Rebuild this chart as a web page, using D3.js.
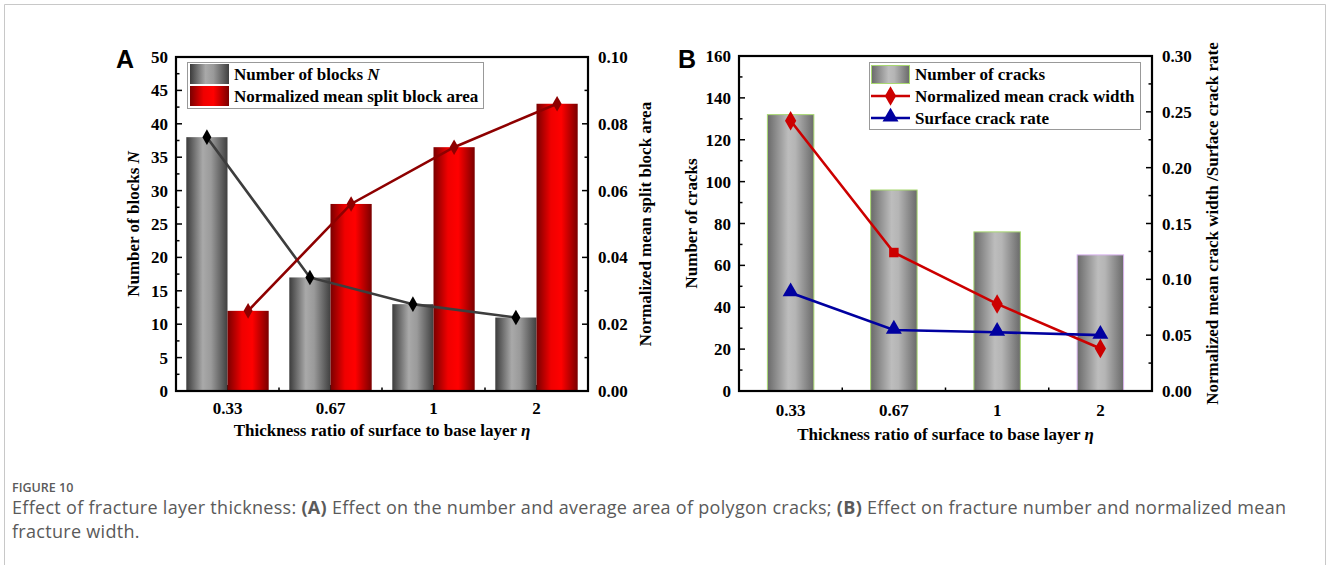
<!DOCTYPE html>
<html>
<head>
<meta charset="utf-8">
<script src="https://cdn.jsdelivr.net/npm/d3@7"></script>
<style>
  body { margin: 0; background: #fff; }
  svg text { font-family: "Liberation Serif", "Times New Roman", serif; font-weight: bold; fill: #000; }
  .cap { font-family: "Open Sans", "Noto Sans", sans-serif; font-weight: normal; fill: #5a5a5a; }
</style>
</head>
<body>
<svg id="fig" width="1328" height="565"></svg>
<script>
// categories (thickness ratio eta)
var categories = ["0.33", "0.67", "1", "2"];

// panel A
var blocksN = [38, 17, 13, 11];
var splitArea = [0.024, 0.056, 0.073, 0.086];
var ticksA_left = [0, 5, 10, 15, 20, 25, 30, 35, 40, 45, 50];
var ticksA_right = [0, 0.02, 0.04, 0.06, 0.08, 0.10];

// panel B
var crackCount = [132, 96, 76, 65];
var crackWidth = [0.242, 0.124, 0.078, 0.038];
var crackRate = [0.088, 0.0546, 0.0526, 0.050];
var ticksB_left = [0, 20, 40, 60, 80, 100, 120, 140, 160];
var ticksB_right = [0, 0.05, 0.10, 0.15, 0.20, 0.25, 0.30];

// marker shape used on the crack width line (second point drawn as a square in the original)
var widthMarkers = [d3.symbolDiamond, d3.symbolSquare, d3.symbolDiamond, d3.symbolDiamond];

var svg = d3.select("#fig");

// outer frame of figure
svg.append("path")
    .attr("d", "M4.5,565 L4.5,4.5 L1325.5,4.5 L1325.5,565")
    .attr("fill", "none")
    .attr("stroke", "#c8c8c8")
    .attr("stroke-width", 1);

var defs = svg.append("defs");
function hGrad(id, stops) {
    var g = defs.append("linearGradient").attr("id", id)
        .attr("x1", "0%").attr("x2", "100%").attr("y1", "0%").attr("y2", "0%");
    stops.forEach(function(s) {
        g.append("stop").attr("offset", s[0]).attr("stop-color", s[1]);
    });
}
hGrad("gGray", [["0%", "#3c3c3c"], ["40%", "#a9a9a9"], ["60%", "#9a9a9a"], ["100%", "#404040"]]);
hGrad("gRed", [["0%", "#7a0000"], ["35%", "#f00000"], ["60%", "#ff0000"], ["100%", "#7a0000"]]);
hGrad("gGrayB", [["0%", "#6a6a6a"], ["45%", "#bdbdbd"], ["60%", "#b5b5b5"], ["100%", "#6a6a6a"]]);

// draws the frame, ticks and labels for one panel
function drawFrame(p) {
    var g = svg.append("g");
    var x = p.x, yl = p.yl, yr = p.yr;
    var L = p.left, R = p.right, T = p.top, B = p.bottom;

    // x ticks: majors at category centres, minors between categories (inward)
    categories.forEach(function(c) {
        g.append("line").attr("x1", x(c) + x.bandwidth() / 2).attr("x2", x(c) + x.bandwidth() / 2)
            .attr("y1", B).attr("y2", B - 6).attr("stroke", "#000").attr("stroke-width", 1.5);
    });
    categories.slice(1).forEach(function(c) {
        g.append("line").attr("x1", x(c)).attr("x2", x(c))
            .attr("y1", B).attr("y2", B - 3.5).attr("stroke", "#000").attr("stroke-width", 1.5);
    });
    // left y ticks, major + minor halfway
    var lstep = p.leftTicks[1] - p.leftTicks[0];
    p.leftTicks.forEach(function(v, i) {
        g.append("line").attr("x1", L).attr("x2", L + 6)
            .attr("y1", yl(v)).attr("y2", yl(v)).attr("stroke", "#000").attr("stroke-width", 1.5);
        if (i < p.leftTicks.length - 1) {
            g.append("line").attr("x1", L).attr("x2", L + 3.5)
                .attr("y1", yl(v + lstep / 2)).attr("y2", yl(v + lstep / 2)).attr("stroke", "#000").attr("stroke-width", 1.5);
        }
    });
    var rstep = p.rightTicks[1] - p.rightTicks[0];
    p.rightTicks.forEach(function(v, i) {
        g.append("line").attr("x1", R).attr("x2", R - 6)
            .attr("y1", yr(v)).attr("y2", yr(v)).attr("stroke", "#000").attr("stroke-width", 1.5);
        if (i < p.rightTicks.length - 1) {
            g.append("line").attr("x1", R).attr("x2", R - 3.5)
                .attr("y1", yr(v + rstep / 2)).attr("y2", yr(v + rstep / 2)).attr("stroke", "#000").attr("stroke-width", 1.5);
        }
    });

    // tick labels
    p.leftTicks.forEach(function(v) {
        g.append("text").attr("x", L - 8).attr("y", yl(v) + 6)
            .attr("text-anchor", "end").attr("font-size", 17).text(v);
    });
    p.rightTicks.forEach(function(v) {
        g.append("text").attr("x", R + 10).attr("y", yr(v) + 6)
            .attr("font-size", 17).text(p.rightFmt(v));
    });
    categories.forEach(function(c) {
        g.append("text").attr("x", x(c) + x.bandwidth() / 2).attr("y", p.tickLabelY)
            .attr("text-anchor", "middle").attr("font-size", 17).text(c);
    });

    // axis titles
    var xt = g.append("text").attr("x", (L + R) / 2).attr("y", p.xTitleY)
        .attr("text-anchor", "middle").attr("font-size", 17);
    xt.append("tspan").text("Thickness ratio of surface to base layer ");
    xt.append("tspan").attr("font-style", "italic").text("\u03b7");

    var lt = g.append("text").attr("text-anchor", "middle").attr("font-size", 17)
        .attr("transform", "translate(" + p.leftTitleX + "," + (T + B) / 2 + ") rotate(-90)");
    p.leftTitle.forEach(function(s) {
        lt.append("tspan").attr("font-style", s[1] ? "italic" : null).text(s[0]);
    });
    g.append("text").attr("text-anchor", "middle").attr("font-size", 17)
        .attr("transform", "translate(" + p.rightTitleX + "," + (T + B) / 2 + ") rotate(-90)")
        .text(p.rightTitle);

    // panel letter
    g.append("text").attr("x", p.letterX).attr("y", 68)
        .style("font-family", "'Liberation Sans', Arial, sans-serif")
        .attr("font-size", 25).text(p.letter);
    return g;
}

function drawBox(p) {
    svg.append("rect").attr("x", p.left).attr("y", p.top)
        .attr("width", p.right - p.left).attr("height", p.bottom - p.top)
        .attr("fill", "none").attr("stroke", "#000").attr("stroke-width", 2.2);
}

// ---------------- Panel A ----------------
var pA = { left: 176, right: 588, top: 57, bottom: 391 };
pA.x = d3.scaleBand().domain(categories).range([pA.left, pA.right]);
pA.yl = d3.scaleLinear().domain([0, 50]).range([pA.bottom, pA.top]);
pA.yr = d3.scaleLinear().domain([0, 0.10]).range([pA.bottom, pA.top]);
pA.leftTicks = ticksA_left;
pA.rightTicks = ticksA_right;
pA.rightFmt = d3.format(".2f");
pA.tickLabelY = 414;
pA.xTitleY = 436;
pA.leftTitle = [["Number of blocks ", false], ["N", true]];
pA.leftTitleX = 139;
pA.rightTitle = "Normalized mean split block area";
pA.rightTitleX = 651;
pA.letter = "A";
pA.letterX = 116;

drawFrame(pA);

var subA = d3.scaleBand().domain(["N", "area"]).range([pA.x.bandwidth() * 0.1, pA.x.bandwidth() * 0.9]);

svg.append("g").selectAll("rect").data(blocksN).join("rect")
    .attr("x", function(d, i) { return pA.x(categories[i]) + subA("N"); })
    .attr("width", subA.bandwidth())
    .attr("y", function(d) { return pA.yl(d); })
    .attr("height", function(d) { return pA.bottom - pA.yl(d); })
    .attr("fill", "url(#gGray)");

svg.append("g").selectAll("rect").data(splitArea).join("rect")
    .attr("x", function(d, i) { return pA.x(categories[i]) + subA("area"); })
    .attr("width", subA.bandwidth())
    .attr("y", function(d) { return pA.yr(d); })
    .attr("height", function(d) { return pA.bottom - pA.yr(d); })
    .attr("fill", "url(#gRed)");

var lineN = d3.line()
    .x(function(d, i) { return pA.x(categories[i]) + subA("N") + subA.bandwidth() / 2; })
    .y(function(d) { return pA.yl(d); });
var lineArea = d3.line()
    .x(function(d, i) { return pA.x(categories[i]) + subA("area") + subA.bandwidth() / 2; })
    .y(function(d) { return pA.yr(d); });

svg.append("path").datum(blocksN).attr("d", lineN)
    .attr("fill", "none").attr("stroke", "#3d3d3d").attr("stroke-width", 2.6);
svg.append("path").datum(splitArea).attr("d", lineArea)
    .attr("fill", "none").attr("stroke", "#8e0000").attr("stroke-width", 2.6);

var diamond = d3.symbol().type(d3.symbolDiamond).size(70);
svg.append("g").selectAll("path").data(blocksN).join("path")
    .attr("d", diamond)
    .attr("transform", function(d, i) { return "translate(" + lineN.x()(d, i) + "," + pA.yl(d) + ")"; })
    .attr("fill", "#000");
svg.append("g").selectAll("path").data(splitArea).join("path")
    .attr("d", diamond)
    .attr("transform", function(d, i) { return "translate(" + lineArea.x()(d, i) + "," + pA.yr(d) + ")"; })
    .attr("fill", "#8e0000");

drawBox(pA);

// legend A
var legA = svg.append("g");
legA.append("rect").attr("x", 187.5).attr("y", 62.5).attr("width", 296).attr("height", 46)
    .attr("fill", "#fff").attr("stroke", "#999").attr("stroke-width", 1);
legA.append("rect").attr("x", 190).attr("y", 64).attr("width", 39).attr("height", 20).attr("fill", "url(#gGray)");
legA.append("rect").attr("x", 190).attr("y", 86).attr("width", 39).attr("height", 20).attr("fill", "url(#gRed)");
var la1 = legA.append("text").attr("x", 234).attr("y", 80).attr("font-size", 17);
la1.append("tspan").text("Number of blocks ");
la1.append("tspan").attr("font-style", "italic").text("N");
legA.append("text").attr("x", 234).attr("y", 102).attr("font-size", 17).text("Normalized mean split block area");

// ---------------- Panel B ----------------
var pB = { left: 739, right: 1152, top: 56, bottom: 391 };
pB.x = d3.scaleBand().domain(categories).range([pB.left, pB.right]);
pB.yl = d3.scaleLinear().domain([0, 160]).range([pB.bottom, pB.top]);
pB.yr = d3.scaleLinear().domain([0, 0.30]).range([pB.bottom, pB.top]);
pB.leftTicks = ticksB_left;
pB.rightTicks = ticksB_right;
pB.rightFmt = d3.format(".2f");
pB.tickLabelY = 416;
pB.xTitleY = 440;
pB.leftTitle = [["Number of cracks", false]];
pB.leftTitleX = 697;
pB.rightTitle = "Normalized mean crack width /Surface crack rate";
pB.rightTitleX = 1218;
pB.letter = "B";
pB.letterX = 678;

drawFrame(pB);

var cx = function(i) { return pB.x(categories[i]) + pB.x.bandwidth() / 2; };
var barWB = pB.x.bandwidth() * 0.45;

svg.append("g").selectAll("rect").data(crackCount).join("rect")
    .attr("x", function(d, i) { return cx(i) - barWB / 2; })
    .attr("width", barWB)
    .attr("y", function(d) { return pB.yl(d); })
    .attr("height", function(d) { return pB.bottom - pB.yl(d); })
    .attr("fill", "url(#gGrayB)")
    .attr("stroke", function(d, i) { return i === 3 ? "#d9b3f0" : "#a8d870"; })
    .attr("stroke-width", 1);

var lineW = d3.line().x(function(d, i) { return cx(i); }).y(function(d) { return pB.yr(d); });

svg.append("path").datum(crackWidth).attr("d", lineW)
    .attr("fill", "none").attr("stroke", "#cc0000").attr("stroke-width", 2.6);
svg.append("path").datum(crackRate).attr("d", lineW)
    .attr("fill", "none").attr("stroke", "#0000a0").attr("stroke-width", 2.6);

svg.append("g").selectAll("path").data(crackWidth).join("path")
    .attr("d", function(d, i) { return d3.symbol().type(widthMarkers[i]).size(widthMarkers[i] === d3.symbolSquare ? 90 : 110)(); })
    .attr("transform", function(d, i) { return "translate(" + cx(i) + "," + pB.yr(d) + ")"; })
    .attr("fill", "#cc0000");
svg.append("g").selectAll("path").data(crackRate).join("path")
    .attr("d", d3.symbol().type(d3.symbolTriangle).size(110))
    .attr("transform", function(d, i) { return "translate(" + cx(i) + "," + (pB.yr(d) - 1) + ")"; })
    .attr("fill", "#0000a0");

drawBox(pB);

// legend B
var legB = svg.append("g");
legB.append("rect").attr("x", 869.5).attr("y", 62.5).attr("width", 271).attr("height", 67)
    .attr("fill", "#fff").attr("stroke", "#999").attr("stroke-width", 1);
legB.append("rect").attr("x", 871.5).attr("y", 65.5).attr("width", 38).attr("height", 18)
    .attr("fill", "url(#gGrayB)").attr("stroke", "#a8d870").attr("stroke-width", 1);
legB.append("line").attr("x1", 871).attr("x2", 910).attr("y1", 96).attr("y2", 96)
    .attr("stroke", "#cc0000").attr("stroke-width", 2.6);
legB.append("path").attr("d", d3.symbol().type(d3.symbolDiamond).size(110))
    .attr("transform", "translate(890.5,96)").attr("fill", "#cc0000");
legB.append("line").attr("x1", 871).attr("x2", 910).attr("y1", 118).attr("y2", 118)
    .attr("stroke", "#0000a0").attr("stroke-width", 2.6);
legB.append("path").attr("d", d3.symbol().type(d3.symbolTriangle).size(110))
    .attr("transform", "translate(890.5,117)").attr("fill", "#0000a0");
legB.append("text").attr("x", 915).attr("y", 80).attr("font-size", 17).text("Number of cracks");
legB.append("text").attr("x", 915).attr("y", 102).attr("font-size", 17).text("Normalized mean crack width");
legB.append("text").attr("x", 915).attr("y", 124).attr("font-size", 17).text("Surface crack rate");

// ---------------- caption ----------------
svg.append("text").attr("class", "cap").attr("x", 12).attr("y", 492)
    .attr("font-size", 12.5).style("font-weight", 600).text("FIGURE 10");
var c1 = svg.append("text").attr("class", "cap").attr("x", 12).attr("y", 514)
    .attr("font-size", 18).style("letter-spacing", "0.3px");
c1.append("tspan").text("Effect of fracture layer thickness: ");
c1.append("tspan").style("font-weight", "bold").text("(A)");
c1.append("tspan").text(" Effect on the number and average area of polygon cracks; ");
c1.append("tspan").style("font-weight", "bold").text("(B)");
c1.append("tspan").text(" Effect on fracture number and normalized mean");
svg.append("text").attr("class", "cap").attr("x", 12).attr("y", 538)
    .attr("font-size", 18).style("letter-spacing", "0.3px")
    .text("fracture width.");
</script>
</body>
</html>
